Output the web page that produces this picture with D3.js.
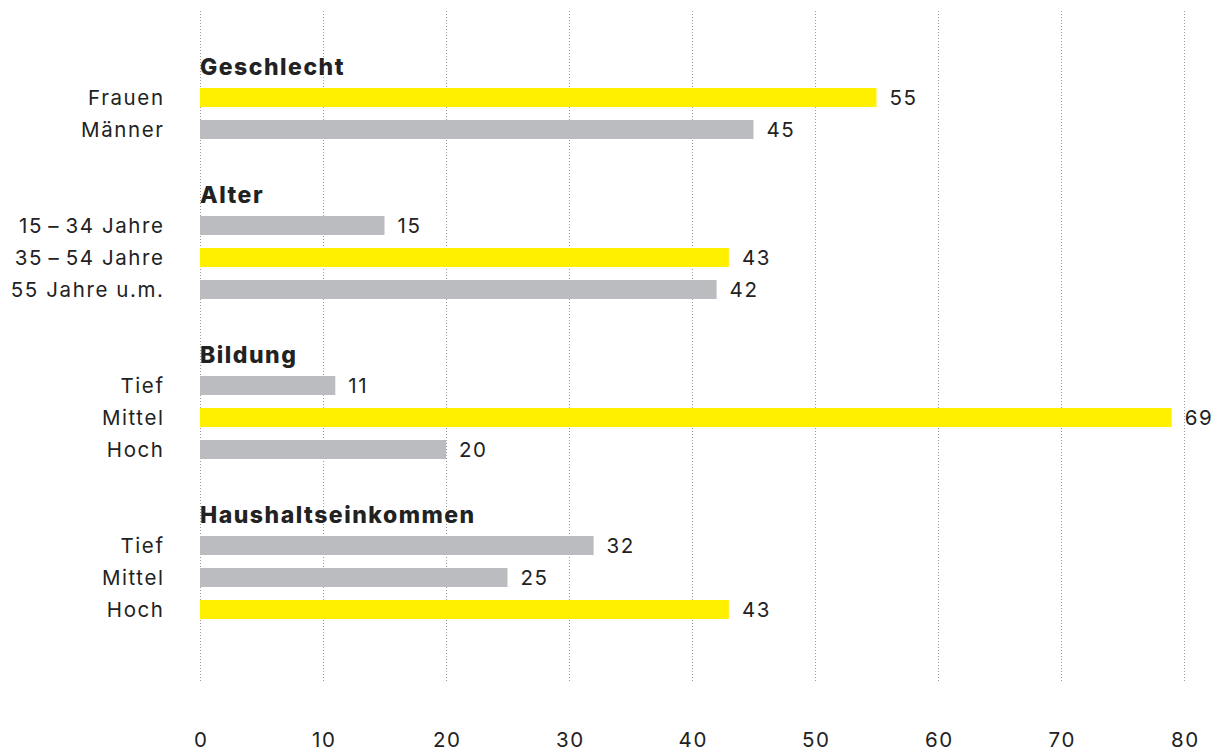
<!DOCTYPE html>
<html>
<head>
<meta charset="utf-8">
<script src="https://cdn.jsdelivr.net/npm/d3@7"></script>
<style>
	body { margin: 0; background: #fff; }
	svg text { font-family: Inter, "Noto Sans", sans-serif; fill: #222; }
</style>
</head>
<body>
<div id="canvas"></div>
<script>
// Data
var groups = ['Geschlecht', 'Alter', 'Bildung', 'Haushaltseinkommen'],
	categories = [
		['Frauen', 'Männer'],
		['15\u2009–\u200934 Jahre', '35\u2009–\u200954 Jahre', '55 Jahre u.m.'],
		['Tief', 'Mittel', 'Hoch'],
		['Tief', 'Mittel', 'Hoch']
	],
	values = [
		[55, 45],
		[15, 43, 42],
		[11, 69, 20],
		[32, 25, 43]
	],
	// length of the drawn bars (Bildung/Mittel is drawn longer than its label)
	barLengths = [
		[55, 45],
		[15, 43, 42],
		[11, 79, 20],
		[32, 25, 43]
	],
	highlighted = [
		[true, false],
		[false, true, false],
		[false, true, false],
		[false, false, true]
	],
	ticks = [0, 10, 20, 30, 40, 50, 60, 70, 80];

var width = 1219,
	height = 751,
	yellow = '#fff000',
	grey = '#bbbcbf',
	barHeight = 19,
	spacing = 1.6;

// Build one row per header, bar and blank gap
var rows = [];
groups.forEach(function(g, gi) {
	rows.push({ type: 'header', key: 'h' + gi, label: g });
	categories[gi].forEach(function(c, ci) {
		rows.push({
			type: 'bar', key: 'b' + gi + '-' + ci, label: c,
			value: values[gi][ci], length: barLengths[gi][ci], hi: highlighted[gi][ci]
		});
	});
	if (gi < groups.length - 1) rows.push({ type: 'gap', key: 'g' + gi });
});

var svg = d3.select('#canvas').append('svg')
	.attr('width', width)
	.attr('height', height);

var x = d3.scaleLinear().domain([0, 80]).range([200, 1184]),
	y = d3.scalePoint().domain(rows.map(function(d) { return d.key; })).range([65.5, 609.5]);

// Grid lines
svg.append('g').selectAll('line')
	.data(ticks)
	.enter().append('line')
		.attr('x1', function(d) { return x(d) + 0.5; })
		.attr('x2', function(d) { return x(d) + 0.5; })
		.attr('y1', 11)
		.attr('y2', 683)
		.attr('stroke', '#999')
		.attr('stroke-width', 1)
		.attr('stroke-dasharray', '1,2');

// Axis labels
var axis = d3.axisBottom(x).tickValues(ticks).tickSize(0).tickPadding(0);
var gAxis = svg.append('g')
	.attr('transform', 'translate(0,731)')
	.call(axis);
gAxis.select('.domain').remove();
gAxis.selectAll('text')
	.attr('font-size', 20.5)
	.attr('dy', '0.76em')
	.attr('dx', spacing / 2)
	.style('letter-spacing', spacing + 'px')
	.style('font-family', 'Inter, sans-serif')
	.attr('fill', '#222');

// Bars
var barRows = rows.filter(function(d) { return d.type === 'bar'; }),
	headerRows = rows.filter(function(d) { return d.type === 'header'; });

svg.append('g').selectAll('rect')
	.data(barRows)
	.enter().append('rect')
		.attr('x', x(0))
		.attr('y', function(d) { return y(d.key) - barHeight / 2; })
		.attr('width', function(d) { return x(d.length) - x(0); })
		.attr('height', barHeight)
		.attr('fill', function(d) { return d.hi ? yellow : grey; });

// Category labels
svg.append('g').selectAll('text')
	.data(barRows)
	.enter().append('text')
		.attr('x', 163 + spacing)
		.attr('y', function(d) { return y(d.key) + 7.5; })
		.attr('text-anchor', 'end')
		.attr('font-size', 20.5)
		.style('letter-spacing', spacing + 'px')
		.text(function(d) { return d.label; });

// Value labels
svg.append('g').selectAll('text')
	.data(barRows)
	.enter().append('text')
		.attr('x', function(d) { return x(d.length) + 13; })
		.attr('y', function(d) { return y(d.key) + 7.5; })
		.attr('font-size', 20.5)
		.style('letter-spacing', spacing + 'px')
		.text(function(d) { return d.value; });

// Group headers
svg.append('g').selectAll('text')
	.data(headerRows)
	.enter().append('text')
		.attr('x', 200)
		.attr('y', function(d) { return y(d.key) + 9.5; })
		.attr('font-size', 23)
		.attr('font-weight', 800)
		.style('letter-spacing', '1.5px')
		.text(function(d) { return d.label; });
</script>
</body>
</html>
